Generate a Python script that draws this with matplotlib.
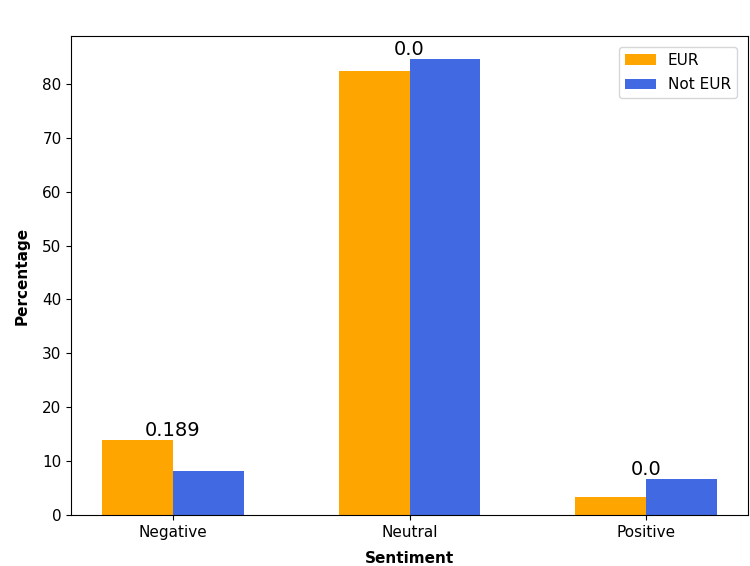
import matplotlib
matplotlib.use("Agg")
import matplotlib.pyplot as plt
import numpy as np

categories = ["Negative", "Neutral", "Positive"]
eur = [13.9, 82.4, 3.3]
not_eur = [8.2, 84.6, 6.6]
p_values = ["0.189", "0.0", "0.0"]

plt.rcParams["font.size"] = 11

fig = plt.figure(figsize=(7.5, 5.66), dpi=100)
ax = fig.add_axes([0.095, 0.09, 0.902, 0.846])

x = np.arange(len(categories))
w = 0.3
ax.bar(x - w / 2, eur, w, color="orange", label="EUR")
ax.bar(x + w / 2, not_eur, w, color="royalblue", label="Not EUR")

for xi, a, b, p in zip(x, eur, not_eur, p_values):
    ax.text(xi, max(a, b), p, ha="center", va="bottom", fontsize=14)

ax.set_xticks(x)
ax.set_xticklabels(categories)
ax.set_xlabel("Sentiment", fontweight="bold", labelpad=8)
ax.set_ylabel("Percentage", fontweight="bold", labelpad=9)
ax.legend(loc="upper right", borderaxespad=0.7, labelspacing=0.6)

fig.savefig("out.png", dpi=100)
